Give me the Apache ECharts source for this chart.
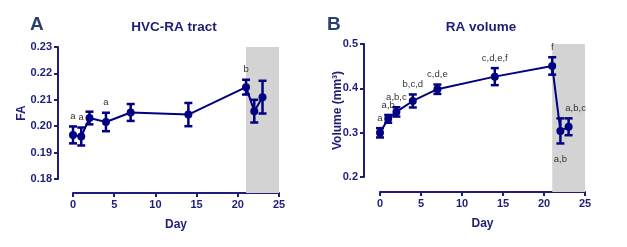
<!DOCTYPE html>
<html>
<head>
<meta charset="utf-8">
<script src="https://cdn.jsdelivr.net/npm/echarts@6/dist/echarts.min.js"></script>
<style>
  html, body { margin: 0; padding: 0; background: #fff; }
  #chart { width: 627px; height: 247px; }
</style>
</head>
<body>
<div id="chart"></div>
<script>
// days sampled
var days = [0, 1, 2, 4, 7, 14, 21, 22, 23];

// panel A: FA of HVC-RA tract (mean, sem)
var faMean = [0.1967, 0.1961, 0.2031, 0.2016, 0.2052, 0.2044, 0.2148, 0.2057, 0.2110];
var faSem = [0.0032, 0.0034, 0.0024, 0.0035, 0.0032, 0.0044, 0.0028, 0.0043, 0.0062];
var faLetters = ['a', 'a', '', 'a', '', '', 'b', '', ''];

// panel B: RA volume (mean, sem)
var volMean = [0.2997, 0.3312, 0.3468, 0.3715, 0.3980, 0.4264, 0.4505, 0.3040, 0.3133];
var volSem = [0.0105, 0.0088, 0.0105, 0.0147, 0.0106, 0.0192, 0.0197, 0.0283, 0.0190];
var volLetters = ['a', 'a,b', 'a,b,c', 'b,c,d', 'c,d,e', 'c,d,e,f', 'f', 'a,b', 'a,b,c'];

// shaded period (days)
var shadeDays = [21, 25];

var navy = '#000080';
var axisColor = '#1e1e78';
var font = 'Liberation Sans, Arial, sans-serif';
var xOffset = [14, 15];   // x axis pushed below each plot
var yOffset = [15, 16];

// letter placement tweaks (panel, index) -> where to put it
var letterPlace = { '1-7': 'below', '1-8': 'right' };

function errData(mean, sem, letters) {
    return days.map(function (d, i) {
        return [d, mean[i] - sem[i], mean[i] + sem[i], letters[i]];
    });
}

function errorBarItem(panel) {
    return function (params, api) {
        var x = api.value(0);
        var lo = api.coord([x, api.value(1)]);
        var hi = api.coord([x, api.value(2)]);
        var cap = 4;
        var st = { stroke: navy, lineWidth: 2.5 };
        var children = [
            { type: 'line', shape: { x1: lo[0], y1: lo[1], x2: hi[0], y2: hi[1] }, style: st },
            { type: 'line', shape: { x1: lo[0] - cap, y1: lo[1], x2: lo[0] + cap, y2: lo[1] }, style: st },
            { type: 'line', shape: { x1: hi[0] - cap, y1: hi[1], x2: hi[0] + cap, y2: hi[1] }, style: st }
        ];
        var txt = api.value(3);
        if (txt) {
            var place = letterPlace[panel + '-' + params.dataIndex];
            var tx = hi[0], ty = hi[1] - 10;
            if (place === 'below') { ty = lo[1] + 16; }
            if (place === 'right') { tx = hi[0] + 7; }
            children.push({
                type: 'text',
                style: {
                    text: txt, x: tx, y: ty,
                    align: 'center', verticalAlign: 'middle',
                    fill: '#333', font: '9.5px ' + font
                }
            });
        }
        return { type: 'group', children: children };
    };
}

function shadeItem(panel, ymin, ymax) {
    return function (params, api) {
        var p0 = api.coord([shadeDays[0], ymax]);
        var p1 = api.coord([shadeDays[1], ymin]);
        return {
            type: 'rect',
            shape: { x: p0[0], y: p0[1], width: p1[0] - p0[0], height: p1[1] - p0[1] + xOffset[panel] },
            style: { fill: '#d3d3d3' }
        };
    };
}

var axisLabelStyle = { color: axisColor, fontWeight: 'bold', fontSize: 11, fontFamily: font };
var nameStyle = { color: axisColor, fontWeight: 'bold', fontSize: 12, fontFamily: font };

function xAxisCfg(gi) {
    return {
        gridIndex: gi, type: 'value', min: 0, max: 25, interval: 5,
        offset: xOffset[gi],
        name: 'Day', nameLocation: 'middle', nameGap: 26, nameTextStyle: nameStyle,
        nameMoveOverlap: false,
        axisLine: { onZero: false, lineStyle: { color: axisColor, width: 2 } },
        axisTick: { length: 4, lineStyle: { color: axisColor, width: 2 } },
        axisLabel: Object.assign({ margin: 6 }, axisLabelStyle),
        splitLine: { show: false }
    };
}

function yAxisCfg(gi, min, max, step, digits, name, gap) {
    return {
        gridIndex: gi, type: 'value', min: min, max: max, interval: step,
        offset: yOffset[gi],
        name: name, nameLocation: 'middle', nameGap: gap, nameTextStyle: nameStyle,
        nameMoveOverlap: false,
        axisLine: { show: true, onZero: false, lineStyle: { color: axisColor, width: 2 } },
        axisTick: { show: true, length: 4, lineStyle: { color: axisColor, width: 2 } },
        axisLabel: Object.assign({ margin: 6, formatter: function (v) { return v.toFixed(digits); } }, axisLabelStyle),
        splitLine: { show: false }
    };
}

var chart = echarts.init(document.getElementById('chart'));
chart.setOption({
    animation: false,
    title: [
        { text: 'A', left: 25, top: 10, textStyle: { color: '#2b3f6c', fontSize: 19, fontWeight: 'bold', fontFamily: font } },
        { text: 'HVC-RA tract', left: 169, top: 15, textAlign: 'center', textStyle: { color: axisColor, fontSize: 13.5, fontWeight: 'bold', fontFamily: font } },
        { text: 'B', left: 322, top: 10, textStyle: { color: '#2b3f6c', fontSize: 19, fontWeight: 'bold', fontFamily: font } },
        { text: 'RA volume', left: 476, top: 15, textAlign: 'center', textStyle: { color: axisColor, fontSize: 13.5, fontWeight: 'bold', fontFamily: font } }
    ],
    grid: [
        { left: 73, top: 47, width: 206, height: 132 },
        { left: 380, top: 44, width: 205, height: 133 }
    ],
    xAxis: [xAxisCfg(0), xAxisCfg(1)],
    yAxis: [
        yAxisCfg(0, 0.18, 0.23, 0.01, 2, 'FA', 30),
        yAxisCfg(1, 0.2, 0.5, 0.1, 1, 'Volume (mm³)', 20)
    ],
    series: [
        { type: 'custom', xAxisIndex: 0, yAxisIndex: 0, clip: false, z: 1, silent: true,
          renderItem: shadeItem(0, 0.18, 0.23), data: [[0]] },
        { type: 'custom', xAxisIndex: 0, yAxisIndex: 0, z: 2, silent: true,
          renderItem: errorBarItem(0), data: errData(faMean, faSem, faLetters) },
        { type: 'line', xAxisIndex: 0, yAxisIndex: 0, z: 3,
          data: days.map(function (d, i) { return [d, faMean[i]]; }),
          symbol: 'circle', symbolSize: 8,
          lineStyle: { color: navy, width: 2 }, itemStyle: { color: navy } },

        { type: 'custom', xAxisIndex: 1, yAxisIndex: 1, clip: false, z: 1, silent: true,
          renderItem: shadeItem(1, 0.2, 0.5), data: [[0]] },
        { type: 'custom', xAxisIndex: 1, yAxisIndex: 1, z: 2, silent: true,
          renderItem: errorBarItem(1), data: errData(volMean, volSem, volLetters) },
        { type: 'line', xAxisIndex: 1, yAxisIndex: 1, z: 3,
          data: days.map(function (d, i) { return [d, volMean[i]]; }),
          symbol: 'circle', symbolSize: 8,
          lineStyle: { color: navy, width: 2 }, itemStyle: { color: navy } }
    ]
});
</script>
</body>
</html>
